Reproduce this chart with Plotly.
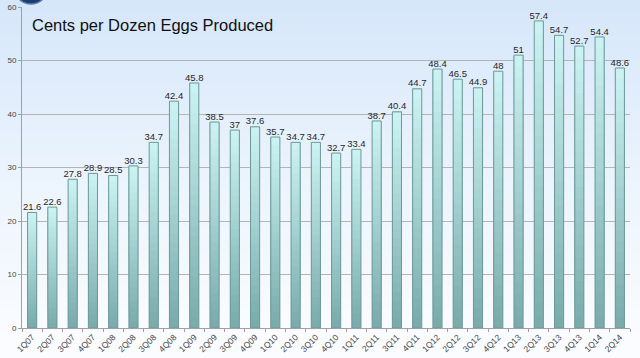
import plotly.graph_objects as go

quarters = ["1Q07","2Q07","3Q07","4Q07","1Q08","2Q08","3Q08","4Q08","1Q09","2Q09",
            "3Q09","4Q09","1Q10","2Q10","3Q10","4Q10","1Q11","2Q11","3Q11","4Q11",
            "1Q12","2Q12","3Q12","4Q12","1Q13","2Q13","3Q13","4Q13","1Q14","2Q14"]
cents = [21.6, 22.6, 27.8, 28.9, 28.5, 30.3, 34.7, 42.4, 45.8, 38.5,
         37, 37.6, 35.7, 34.7, 34.7, 32.7, 33.4, 38.7, 40.4, 44.7,
         48.4, 46.5, 44.9, 48, 51, 57.4, 54.7, 52.7, 54.4, 48.6]
y_ticks = [0, 10, 20, 30, 40, 50, 60]
title_text = "Cents per Dozen Eggs Produced"

W, H = 640, 358
ML, MR, MT, MB = 22, 10, 7, 30
BW = 0.45

def lerp(c1, c2, t):
    return "rgb(%d,%d,%d)" % tuple(round(a + (b - a) * t) for a, b in zip(c1, c2))

fig = go.Figure()

# gradient bars: overlaid slices, each running from a fraction of the bar up to its top
N = 24
bottom_c = (120, 170, 170)
top_c = (204, 244, 244)
for k in range(N):
    frac = k / N
    fig.add_trace(go.Bar(
        x=quarters, y=[v * (1 - frac) for v in cents], base=[v * frac for v in cents],
        width=BW, marker=dict(color=lerp(bottom_c, top_c, (k + 0.5) / N), line=dict(width=0)),
        hoverinfo="skip", showlegend=False))

# outline
fig.add_trace(go.Bar(
    x=quarters, y=cents, width=BW,
    marker=dict(color="rgba(0,0,0,0)", line=dict(color="rgb(110,152,152)", width=1)),
    showlegend=False, hoverinfo="skip"))

# value labels
fig.add_trace(go.Scatter(
    x=quarters, y=cents, mode="text", text=[f"{v:g}" for v in cents],
    textposition="top center", cliponaxis=False,
    textfont=dict(family="Liberation Sans, Arial", size=9.5, color="#262626"),
    showlegend=False, hoverinfo="skip"))

# background gradient strips
shapes = []
x0p = -ML / (W - ML - MR)
x1p = 1 + MR / (W - ML - MR)
ph = H - MT - MB
y0p = -MB / ph
y1p = 1 + MT / ph
S = 30
top_bg = (214, 231, 250)
bot_bg = (250, 252, 255)
for i in range(S):
    ya = y0p + (y1p - y0p) * i / S
    yb = y0p + (y1p - y0p) * (i + 1) / S + 0.002
    t = i / (S - 1)
    shapes.append(dict(type="rect", xref="paper", yref="paper", x0=x0p, x1=x1p, y0=ya, y1=yb,
                       fillcolor=lerp(bot_bg, top_bg, t ** 1.3), line=dict(width=0), layer="below"))
# partial logo circle at top-left
shapes.append(dict(type="circle", xref="paper", yref="paper",
                   x0=(14 - ML) / (W - ML - MR), x1=(48 - ML) / (W - ML - MR),
                   y0=1 + (MT - 4) / ph, y1=1 + (MT + 30) / ph,
                   fillcolor="#1d3d6e", line=dict(color="#5c7fb0", width=1.5)))

fig.update_layout(
    width=W, height=H, margin=dict(l=ML, r=MR, t=MT, b=MB),
    paper_bgcolor="rgb(232,241,252)", plot_bgcolor="rgba(0,0,0,0)",
    barmode="overlay", shapes=shapes,
    font=dict(family="Liberation Sans, Arial", color="#333"),
    annotations=[dict(text=title_text, xref="paper", yref="paper",
                      x=(31 - ML) / (W - ML - MR), y=1 - (25 - MT) / ph,
                      xanchor="left", yanchor="middle", showarrow=False, borderpad=0,
                      font=dict(family="Liberation Sans, Arial", size=16.5, color="#111"))],
)
fig.update_xaxes(tickangle=-45, tickfont=dict(size=8.5, color="#444"), automargin=False,
                 showline=True, linecolor="#a0a0a0", linewidth=1,
                 ticks="outside", tickson="boundaries", ticklen=3, tickcolor="#a0a0a0",
                 showgrid=False, range=[-0.5, len(quarters) - 0.5])
fig.update_yaxes(range=[0, 60], tickvals=y_ticks, tickfont=dict(size=8, color="#444"),
                 automargin=False,
                 showline=True, linecolor="#a0a0a0", linewidth=1,
                 ticks="outside", ticklen=3, tickcolor="#a0a0a0",
                 showgrid=True, gridcolor="#b4b4b4", gridwidth=1, zeroline=False)

fig.write_html("out.html", config={"displayModeBar": False},
               post_script="document.body.style.margin='0';document.body.style.overflow='hidden';")
